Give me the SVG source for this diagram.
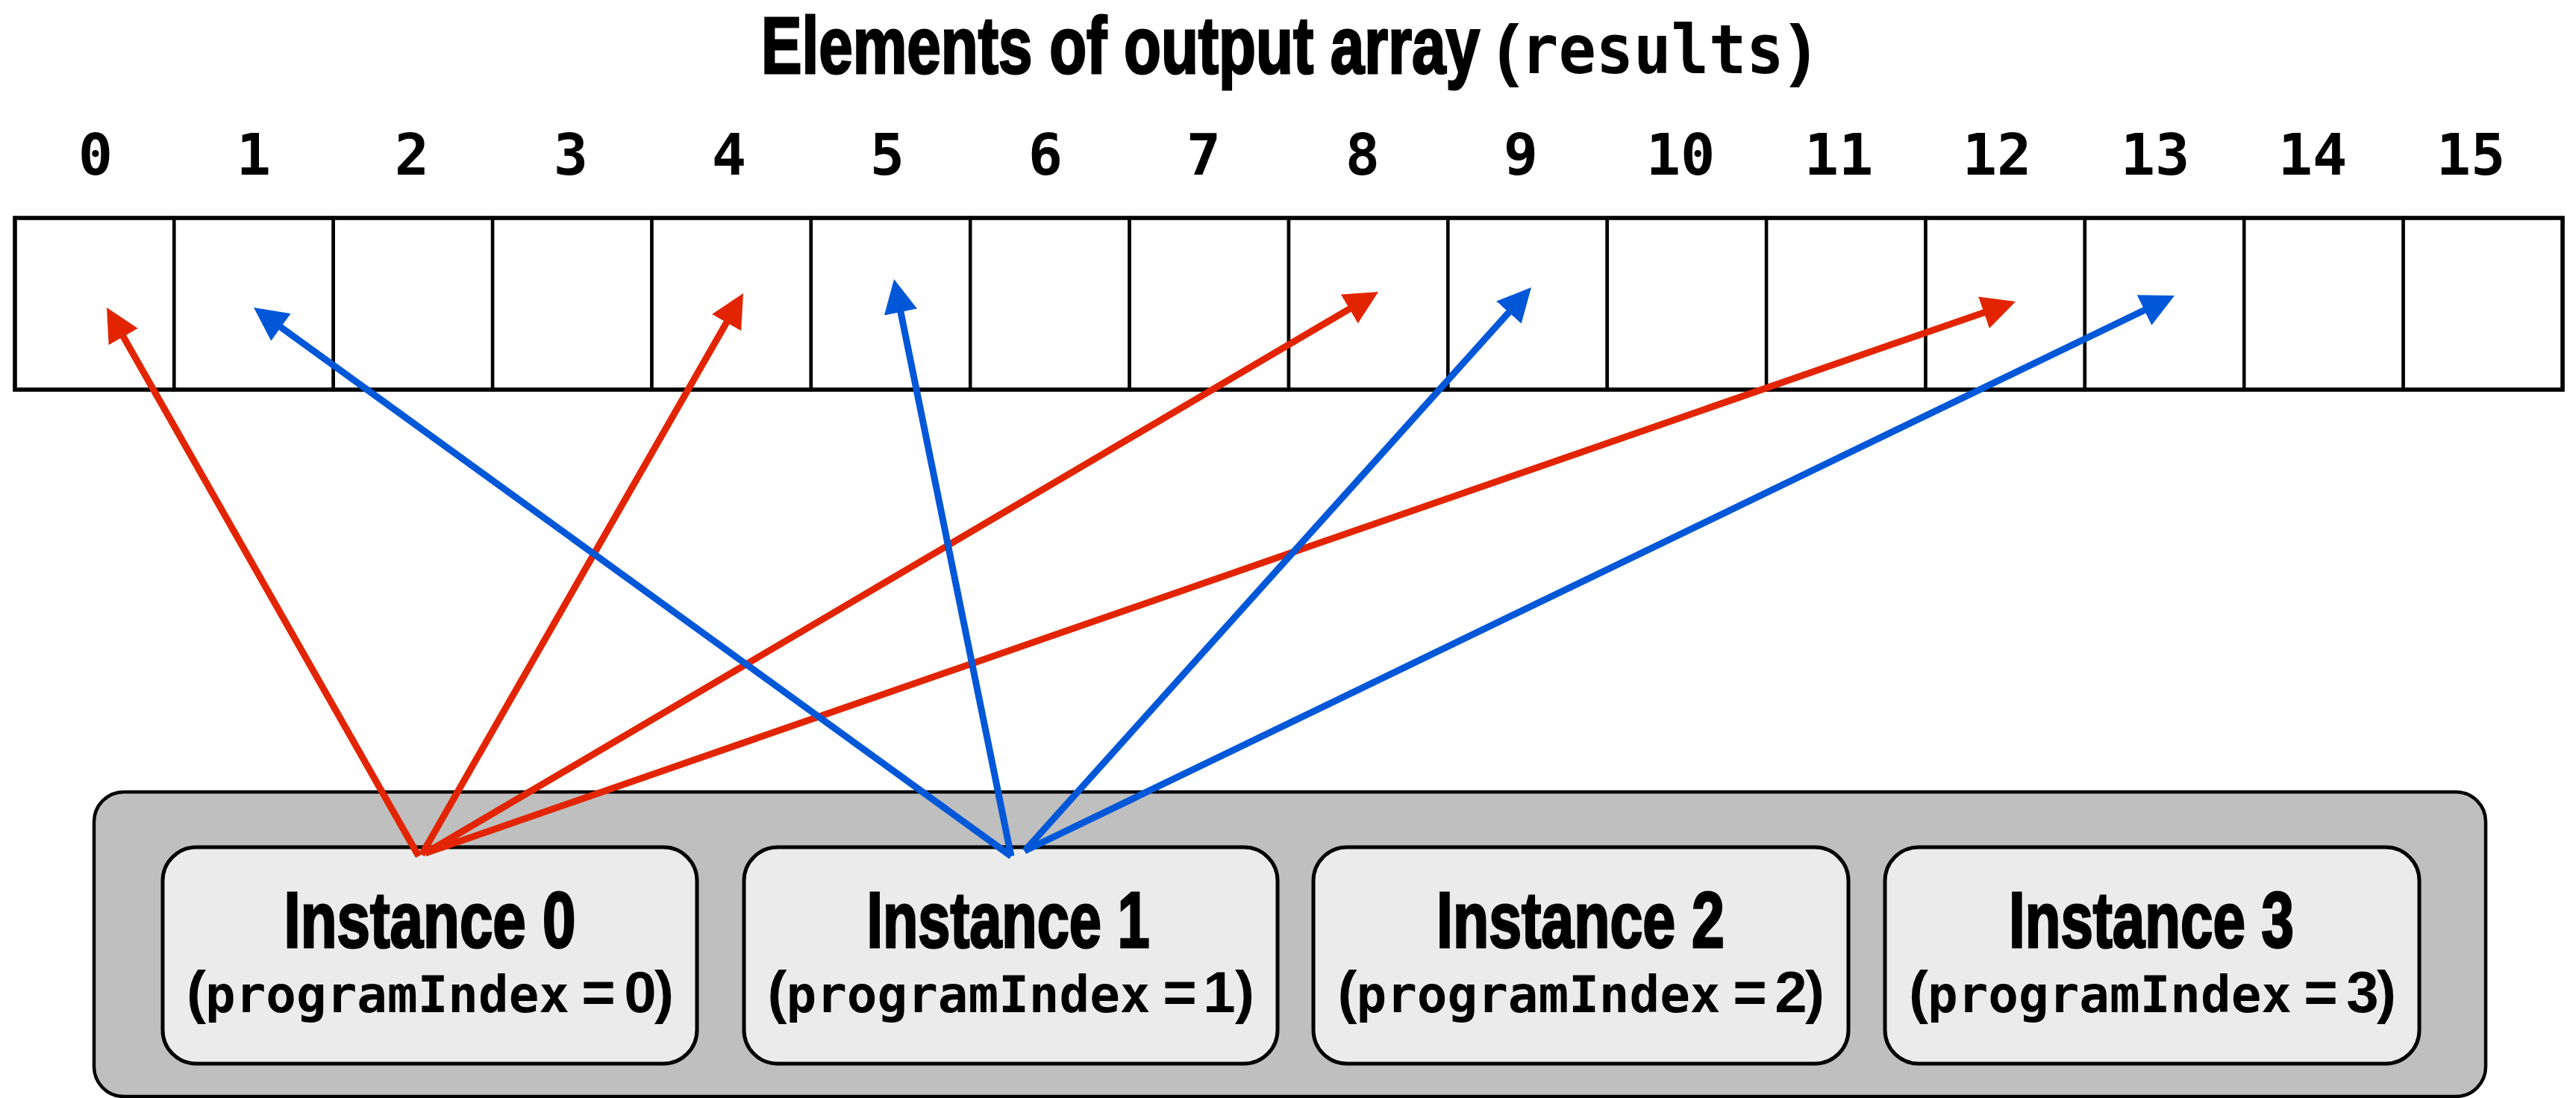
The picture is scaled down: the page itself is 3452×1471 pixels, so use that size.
<svg xmlns="http://www.w3.org/2000/svg" width="3452" height="1471" viewBox="0 0 3452 1471">
<defs>
<style>
.cell{fill:#ffffff;stroke:#000;stroke-width:4.5}
.frame{fill:none;stroke:#000;stroke-width:5.5}
.num{font-family:"DejaVu Sans Mono","Liberation Mono",monospace;font-weight:bold;font-size:77px;text-anchor:middle;fill:#000}
.title{font-family:"Liberation Sans",Arial,sans-serif;font-weight:bold;font-size:107px;fill:#000;stroke:#000;stroke-width:3}
.tm{font-family:"DejaVu Sans Mono","Liberation Mono",monospace;font-weight:bold;font-size:90px;fill:#000}
.tp{font-family:"Liberation Sans",Arial,sans-serif;font-weight:bold;font-size:92px;fill:#000}
.outer{fill:#bfbfbf;stroke:#000;stroke-width:4.5}
.inst{fill:#ebebeb;stroke:#000;stroke-width:5}
.h1{font-family:"Liberation Sans",Arial,sans-serif;font-weight:bold;font-size:106px;text-anchor:middle;fill:#000;stroke:#000;stroke-width:3}
.l2{font-family:"Liberation Sans",Arial,sans-serif;font-weight:bold;font-size:78px;fill:#000}
.s{text-anchor:middle}
.m{font-family:"DejaVu Sans Mono","Liberation Mono",monospace;font-weight:bold;font-size:68px;text-anchor:start}
.red{stroke:#e22500;stroke-width:9;fill:none}
.blue{stroke:#0057d8;stroke-width:9;fill:none}
</style>
<marker id="ahr" markerUnits="userSpaceOnUse" viewBox="0 0 45 45" markerWidth="45" markerHeight="45" refX="7" refY="22.5" orient="auto"><path d="M0,0 L45,22.5 L0,45 z" fill="#e22500"/></marker>
<marker id="ahb" markerUnits="userSpaceOnUse" viewBox="0 0 45 45" markerWidth="45" markerHeight="45" refX="7" refY="22.5" orient="auto"><path d="M0,0 L45,22.5 L0,45 z" fill="#0057d8"/></marker>
</defs>
<rect width="3452" height="1471" fill="#ffffff"/>
<g id="title">
<text class="title" x="0" y="0" transform="translate(1020,98) scale(0.764,1)">Elements of output array</text>
<text class="tp" x="2005" y="98">(</text>
<text class="tm" x="0" y="0" transform="translate(2038,98) scale(0.93,1)">results</text>
<text class="tp" x="2398" y="98">)</text>
</g>
<g id="array">
<rect id="cell-0" class="cell" x="20" y="292" width="213.375" height="230"/>
<rect id="cell-1" class="cell" x="233.375" y="292" width="213.375" height="230"/>
<rect id="cell-2" class="cell" x="446.75" y="292" width="213.375" height="230"/>
<rect id="cell-3" class="cell" x="660.125" y="292" width="213.375" height="230"/>
<rect id="cell-4" class="cell" x="873.5" y="292" width="213.375" height="230"/>
<rect id="cell-5" class="cell" x="1086.875" y="292" width="213.375" height="230"/>
<rect id="cell-6" class="cell" x="1300.25" y="292" width="213.375" height="230"/>
<rect id="cell-7" class="cell" x="1513.625" y="292" width="213.375" height="230"/>
<rect id="cell-8" class="cell" x="1727" y="292" width="213.375" height="230"/>
<rect id="cell-9" class="cell" x="1940.375" y="292" width="213.375" height="230"/>
<rect id="cell-10" class="cell" x="2153.75" y="292" width="213.375" height="230"/>
<rect id="cell-11" class="cell" x="2367.125" y="292" width="213.375" height="230"/>
<rect id="cell-12" class="cell" x="2580.5" y="292" width="213.375" height="230"/>
<rect id="cell-13" class="cell" x="2793.875" y="292" width="213.375" height="230"/>
<rect id="cell-14" class="cell" x="3007.25" y="292" width="213.375" height="230"/>
<rect id="cell-15" class="cell" x="3220.625" y="292" width="213.375" height="230"/>
<rect class="frame" x="20" y="292" width="3414" height="230"/>
<text class="num" x="128" y="234">0</text>
<text class="num" x="340" y="234">1</text>
<text class="num" x="552" y="234">2</text>
<text class="num" x="765" y="234">3</text>
<text class="num" x="977" y="234">4</text>
<text class="num" x="1189" y="234">5</text>
<text class="num" x="1401" y="234">6</text>
<text class="num" x="1613" y="234">7</text>
<text class="num" x="1826" y="234">8</text>
<text class="num" x="2038" y="234">9</text>
<text class="num" x="2252" y="234">10</text>
<text class="num" x="2464" y="234">11</text>
<text class="num" x="2676" y="234">12</text>
<text class="num" x="2888" y="234">13</text>
<text class="num" x="3099" y="234">14</text>
<text class="num" x="3311" y="234">15</text>
</g>
<g id="gang">
<rect class="outer" x="126" y="1061" width="3205" height="408" rx="40" ry="40"/>
</g>
<g id="instance-0">
<rect class="inst" x="218" y="1135" width="716" height="290" rx="45" ry="45"/>
<text class="h1" x="576" y="1269" textLength="391" lengthAdjust="spacingAndGlyphs">Instance 0</text>
<text class="l2" y="1356"><tspan class="s" x="263">(</tspan><tspan class="m" x="275" textLength="488" lengthAdjust="spacingAndGlyphs">programIndex</tspan><tspan class="s" x="802">=</tspan><tspan class="s" x="858">0</tspan><tspan class="s" x="890">)</tspan></text>
</g>
<g id="instance-1">
<rect class="inst" x="997" y="1135" width="715" height="290" rx="45" ry="45"/>
<text class="h1" x="1351" y="1269" textLength="379" lengthAdjust="spacingAndGlyphs">Instance 1</text>
<text class="l2" y="1356"><tspan class="s" x="1041.5">(</tspan><tspan class="m" x="1053.5" textLength="488" lengthAdjust="spacingAndGlyphs">programIndex</tspan><tspan class="s" x="1581">=</tspan><tspan class="s" x="1634">1</tspan><tspan class="s" x="1668">)</tspan></text>
</g>
<g id="instance-2">
<rect class="inst" x="1760" y="1135" width="717" height="290" rx="45" ry="45"/>
<text class="h1" x="2118" y="1269" textLength="386" lengthAdjust="spacingAndGlyphs">Instance 2</text>
<text class="l2" y="1356"><tspan class="s" x="1805.5">(</tspan><tspan class="m" x="1817.5" textLength="488" lengthAdjust="spacingAndGlyphs">programIndex</tspan><tspan class="s" x="2345">=</tspan><tspan class="s" x="2400">2</tspan><tspan class="s" x="2432">)</tspan></text>
</g>
<g id="instance-3">
<rect class="inst" x="2526" y="1135" width="716" height="290" rx="45" ry="45"/>
<text class="h1" x="2883" y="1269" textLength="382" lengthAdjust="spacingAndGlyphs">Instance 3</text>
<text class="l2" y="1356"><tspan class="s" x="2571">(</tspan><tspan class="m" x="2583" textLength="488" lengthAdjust="spacingAndGlyphs">programIndex</tspan><tspan class="s" x="3110">=</tspan><tspan class="s" x="3166">3</tspan><tspan class="s" x="3198">)</tspan></text>
</g>
<g id="connectors">
<line class="red" x1="561" y1="1147" x2="161.8" y2="445.0" marker-end="url(#ahr)"/>
<line class="red" x1="565" y1="1145" x2="977.1" y2="426.0" marker-end="url(#ahr)"/>
<line class="red" x1="570" y1="1143" x2="1814.3" y2="410.3" marker-end="url(#ahr)"/>
<line class="red" x1="570" y1="1143" x2="2665.1" y2="416.4" marker-end="url(#ahr)"/>
<line class="blue" x1="1355" y1="1147" x2="370.8" y2="434.3" marker-end="url(#ahb)"/>
<line class="blue" x1="1355" y1="1147" x2="1205.6" y2="411.2" marker-end="url(#ahb)"/>
<line class="blue" x1="1373" y1="1140" x2="2026.6" y2="413.3" marker-end="url(#ahb)"/>
<line class="blue" x1="1373" y1="1140" x2="2879.8" y2="412.5" marker-end="url(#ahb)"/>
</g>
</svg>
